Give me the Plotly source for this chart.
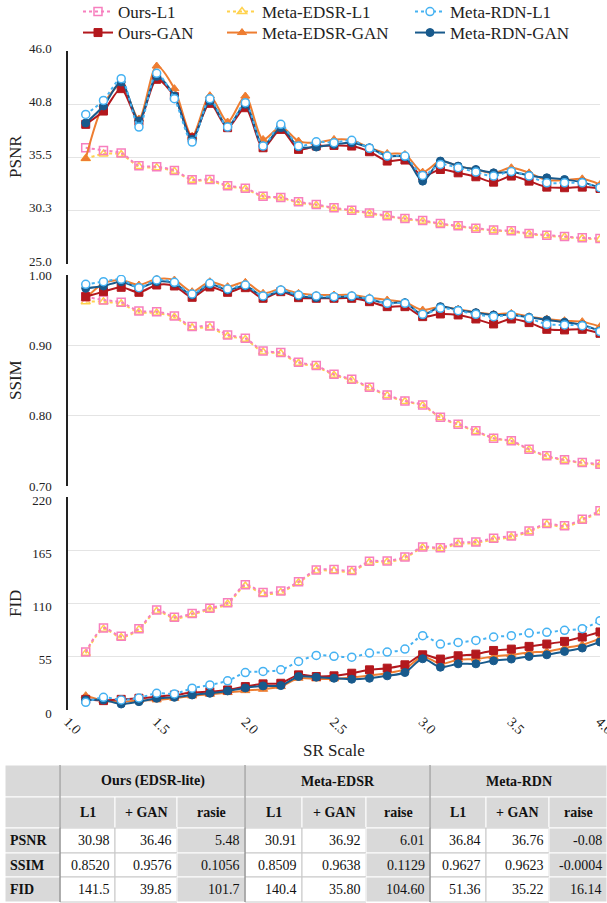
import plotly.graph_objects as go

W, H = 607, 903

# ---------------- data ----------------
sr_scale = [1.1, 1.2, 1.3, 1.4, 1.5, 1.6, 1.7, 1.8, 1.9, 2.0,
            2.1, 2.2, 2.3, 2.4, 2.5, 2.6, 2.7, 2.8, 2.9, 3.0,
            3.1, 3.2, 3.3, 3.4, 3.5, 3.6, 3.7, 3.8, 3.9, 4.0]

ours_l1_psnr = [36.46, 36.20, 35.94, 34.69, 34.59, 34.23, 33.30, 33.34, 32.71, 32.48,
                31.69, 31.56, 31.13, 30.87, 30.54, 30.31, 30.04, 29.75, 29.49, 29.29,
                28.99, 28.76, 28.53, 28.34, 28.27, 28.01, 27.84, 27.71, 27.58, 27.51]
edsr_l1_psnr = [35.40, 35.85, 35.80, 34.62, 34.50, 34.15, 33.25, 33.22, 32.65, 32.40,
                31.62, 31.50, 31.05, 30.80, 30.48, 30.25, 29.98, 29.70, 29.43, 29.22,
                28.93, 28.70, 28.48, 28.30, 28.20, 27.95, 27.78, 27.66, 27.52, 27.44]
rdn_l1_psnr = [39.75, 41.13, 43.27, 38.50, 43.80, 41.30, 37.02, 41.30, 38.50, 40.90,
               36.63, 38.77, 36.63, 37.05, 36.96, 37.19, 36.40, 35.64, 35.64, 33.73,
               34.82, 34.49, 34.06, 33.67, 34.13, 33.67, 33.00, 33.00, 33.00, 32.52]
ours_gan_psnr = [38.77, 40.08, 42.29, 39.06, 43.21, 41.50, 37.45, 40.84, 38.44, 40.41,
                 36.46, 38.27, 36.30, 36.63, 36.69, 36.63, 36.07, 35.15, 35.25, 33.67,
                 34.32, 33.99, 33.60, 33.07, 33.67, 33.17, 32.58, 32.52, 32.58, 32.45]
edsr_gan_psnr = [35.40, 40.74, 42.70, 39.30, 44.52, 42.29, 37.60, 41.60, 39.00, 41.56,
                 37.28, 38.53, 37.12, 36.96, 37.28, 37.22, 36.46, 35.90, 35.80, 34.06,
                 35.15, 34.65, 34.32, 33.99, 34.49, 33.99, 33.27, 33.27, 33.40, 32.84]
rdn_gan_psnr = [38.90, 40.58, 42.94, 39.10, 43.50, 41.56, 37.28, 41.07, 38.53, 40.74,
                36.63, 38.44, 36.56, 36.53, 36.79, 36.96, 36.46, 35.64, 35.57, 33.17,
                35.15, 34.65, 34.32, 33.99, 34.06, 33.73, 33.50, 33.33, 33.07, 32.52]

ours_l1_ssim = [0.9692, 0.9645, 0.9612, 0.9489, 0.9479, 0.9418, 0.9266, 0.9276, 0.9148, 0.9100,
                0.8920, 0.8897, 0.8759, 0.8712, 0.8589, 0.8518, 0.8404, 0.8295, 0.8210, 0.8153,
                0.7978, 0.7879, 0.7784, 0.7680, 0.7642, 0.7524, 0.7429, 0.7372, 0.7334, 0.7311]
edsr_l1_ssim = [0.9621, 0.9620, 0.9590, 0.9470, 0.9460, 0.9400, 0.9250, 0.9255, 0.9130, 0.9085,
                0.8905, 0.8885, 0.8745, 0.8700, 0.8575, 0.8505, 0.8395, 0.8285, 0.8200, 0.8145,
                0.7970, 0.7870, 0.7775, 0.7675, 0.7635, 0.7515, 0.7420, 0.7365, 0.7325, 0.7300]
rdn_l1_ssim = [0.9867, 0.9905, 0.9938, 0.9820, 0.9929, 0.9896, 0.9730, 0.9882, 0.9801, 0.9858,
               0.9702, 0.9787, 0.9716, 0.9702, 0.9692, 0.9702, 0.9659, 0.9597, 0.9597, 0.9441,
               0.9527, 0.9493, 0.9441, 0.9408, 0.9432, 0.9384, 0.9299, 0.9290, 0.9280, 0.9195]
ours_gan_ssim = [0.9692, 0.9763, 0.9825, 0.9754, 0.9858, 0.9844, 0.9683, 0.9830, 0.9754, 0.9820,
                 0.9669, 0.9763, 0.9678, 0.9669, 0.9669, 0.9669, 0.9621, 0.9550, 0.9550, 0.9408,
                 0.9446, 0.9432, 0.9375, 0.9304, 0.9375, 0.9323, 0.9228, 0.9219, 0.9228, 0.9171]
edsr_gan_ssim = [0.9669, 0.9882, 0.9929, 0.9858, 0.9943, 0.9929, 0.9763, 0.9905, 0.9834, 0.9896,
                 0.9740, 0.9801, 0.9740, 0.9716, 0.9716, 0.9716, 0.9678, 0.9645, 0.9612, 0.9503,
                 0.9550, 0.9512, 0.9470, 0.9441, 0.9455, 0.9408, 0.9375, 0.9351, 0.9337, 0.9266]
rdn_gan_ssim = [0.9811, 0.9844, 0.9905, 0.9820, 0.9905, 0.9882, 0.9716, 0.9867, 0.9787, 0.9848,
                0.9692, 0.9773, 0.9702, 0.9678, 0.9683, 0.9692, 0.9654, 0.9597, 0.9607, 0.9432,
                0.9550, 0.9503, 0.9465, 0.9432, 0.9432, 0.9399, 0.9361, 0.9328, 0.9290, 0.9205]

ours_l1_fid = [59.8, 84.7, 76.1, 84.0, 103.4, 95.8, 99.6, 105.1, 110.7, 129.3,
               121.4, 122.8, 132.5, 144.6, 145.0, 144.2, 153.6, 153.9, 158.1, 168.4,
               167.7, 172.9, 173.6, 177.4, 179.8, 185.0, 192.6, 190.2, 197.1, 205.8]
edsr_l1_fid = [58.5, 83.5, 75.0, 83.0, 102.0, 94.5, 98.5, 104.0, 109.5, 128.0,
               120.0, 121.5, 131.5, 143.5, 143.8, 143.0, 152.5, 152.8, 157.0, 167.5,
               166.5, 171.5, 172.5, 176.0, 178.5, 184.0, 191.5, 189.0, 196.0, 204.5]
rdn_l1_fid = [7.9, 13.1, 10.4, 12.4, 17.3, 16.6, 22.5, 25.9, 30.1, 38.7,
              39.8, 41.5, 50.1, 56.4, 55.5, 54.6, 58.8, 59.8, 62.9, 76.8,
              68.1, 69.8, 71.9, 75.4, 76.8, 79.5, 80.2, 82.3, 84.0, 92.3]
ours_gan_fid = [11.0, 9.7, 11.0, 12.1, 13.8, 15.5, 18.0, 19.0, 20.7, 24.2,
                27.0, 27.6, 36.3, 34.6, 35.3, 38.0, 41.5, 43.2, 46.7, 57.0,
                52.6, 56.0, 57.7, 61.5, 62.9, 65.7, 68.1, 70.9, 75.4, 80.6]
edsr_gan_fid = [14.8, 9.7, 8.6, 9.7, 10.4, 12.1, 14.5, 16.2, 18.0, 20.0,
                21.4, 24.2, 32.8, 32.1, 32.1, 33.5, 35.6, 38.0, 42.2, 55.3,
                47.7, 51.9, 52.6, 55.3, 57.0, 59.5, 60.5, 64.0, 67.4, 73.7]
rdn_gan_fid = [10.4, 10.4, 6.2, 8.6, 12.1, 13.1, 15.5, 17.3, 19.7, 22.8,
               24.9, 25.2, 34.6, 33.9, 32.8, 31.8, 32.8, 35.3, 38.7, 52.9,
               44.2, 47.7, 47.7, 50.8, 52.6, 55.3, 57.0, 60.5, 64.0, 70.2]

psnr_ticks = [25.0, 30.25, 35.5, 40.75, 46.0]
psnr_ticktext = ["25.0", "30.3", "35.5", "40.8", "46.0"]
ssim_ticks = [0.70, 0.80, 0.90, 1.00]
ssim_ticktext = ["0.70", "0.80", "0.90", "1.00"]
fid_ticks = [0, 55, 110, 165, 220]
x_ticks = [1.0, 1.5, 2.0, 2.5, 3.0, 3.5, 4.0]
x_ticktext = ["1.0", "1.5", "2.0", "2.5", "3.0", "3.5", "4.0"]

# table data
group_headers = ["", "Ours (EDSR-lite)", "Meta-EDSR", "Meta-RDN"]
sub_headers = ["", "L1", "+ GAN", "rasie", "L1", "+ GAN", "raise", "L1", "+ GAN", "raise"]
row_labels = ["PSNR", "SSIM", "FID"]
ours_l1_tab = ["30.98", "0.8520", "141.5"]
ours_gan_tab = ["36.46", "0.9576", "39.85"]
ours_raise_tab = ["5.48", "0.1056", "101.7"]
edsr_l1_tab = ["30.91", "0.8509", "140.4"]
edsr_gan_tab = ["36.92", "0.9638", "35.80"]
edsr_raise_tab = ["6.01", "0.1129", "104.60"]
rdn_l1_tab = ["36.84", "0.9627", "51.36"]
rdn_gan_tab = ["36.76", "0.9623", "35.22"]
rdn_raise_tab = ["-0.08", "-0.0004", "16.14"]

# ---------------- style ----------------
FONT = "Liberation Serif, Times New Roman, serif"
PINK = "#F77FBE"
YELLOW = "#FFD24D"
LBLUE = "#45B2F2"
RED = "#B3181D"
ORANGE = "#EE7D31"
DBLUE = "#185A8C"

# name, legend id, color, symbol, dash, data
series = [
    ("Meta-EDSR-L1", "legend3", YELLOW, "triangle-up-open", "dot",
     (edsr_l1_psnr, edsr_l1_ssim, edsr_l1_fid)),
    ("Ours-L1", "legend", PINK, "square-open", "dot",
     (ours_l1_psnr, ours_l1_ssim, ours_l1_fid)),
    ("Meta-EDSR-GAN", "legend4", ORANGE, "triangle-up", "solid",
     (edsr_gan_psnr, edsr_gan_ssim, edsr_gan_fid)),
    ("Ours-GAN", "legend2", RED, "square", "solid",
     (ours_gan_psnr, ours_gan_ssim, ours_gan_fid)),
    ("Meta-RDN-GAN", "legend6", DBLUE, "circle", "solid",
     (rdn_gan_psnr, rdn_gan_ssim, rdn_gan_fid)),
    ("Meta-RDN-L1", "legend5", LBLUE, "circle", "dot",
     (rdn_l1_psnr, rdn_l1_ssim, rdn_l1_fid)),
]

fig = go.Figure()
axes = [("x", "y"), ("x2", "y2"), ("x3", "y3")]
for name, leg, color, symbol, dash, data in series:
    for k, (xa, ya) in enumerate(axes):
        if name == "Meta-RDN-L1":
            marker = dict(symbol="circle", size=8, color="white",
                          line=dict(color=color, width=1.5))
        elif symbol.endswith("open"):
            marker = dict(symbol=symbol, size=8, color=color,
                          line=dict(color=color, width=1.5))
        else:
            marker = dict(symbol=symbol, size=8, color=color,
                          line=dict(color=color, width=1))
        fig.add_trace(go.Scatter(
            x=sr_scale, y=data[k], xaxis=xa, yaxis=ya,
            mode="lines+markers", name=name,
            legend=leg, showlegend=(k == 0),
            line=dict(color=color, width=2, dash=dash,
                      shape="spline", smoothing=0.8),
            marker=marker,
        ))


def py(px_from_top):
    return 1 - px_from_top / H


def pxx(px):
    return px / W


x_dom = [pxx(68), pxx(600)]
grid = "#E4E4E4"
common_y = dict(showgrid=True, gridcolor=grid, gridwidth=1, zeroline=False,
                showline=True, linecolor="#222222", linewidth=1.5,
                ticks="", automargin=False, ticklabelstandoff=12,
                tickfont=dict(family=FONT, size=13, color="#222"))
common_x = dict(range=[1.0, 4.0], showgrid=False, zeroline=False,
                showline=False, tickvals=x_ticks, ticktext=x_ticktext,
                automargin=False)

fig.update_layout(
    width=W, height=H,
    margin=dict(l=0, r=0, t=0, b=0, autoexpand=False),
    paper_bgcolor="white", plot_bgcolor="white",
    font=dict(family=FONT, color="#222"),
    xaxis=dict(domain=x_dom, anchor="y", showticklabels=False, **common_x),
    xaxis2=dict(domain=x_dom, anchor="y2", showticklabels=False, **common_x),
    xaxis3=dict(domain=x_dom, anchor="y3", showticklabels=True, tickangle=45,
                ticks="", ticklabeloverflow="allow",
                tickfont=dict(family=FONT, size=14, color="#222"),
                **common_x),
    yaxis=dict(domain=[py(264), py(51)], anchor="x", range=[25.0, 46.0],
               tickvals=psnr_ticks, ticktext=psnr_ticktext,
               ticklabelshift=-3, **common_y),
    yaxis2=dict(domain=[py(486), py(275)], anchor="x2", range=[0.70, 1.00],
                tickvals=ssim_ticks, ticktext=ssim_ticktext, **common_y),
    yaxis3=dict(domain=[py(710), py(497)], anchor="x3", range=[0, 220],
                tickvals=fid_ticks, ticklabelshift=3, **common_y),
)

# one legend per entry so that the 3x2 grid matches the reference spacing
leg_common = dict(orientation="v", yanchor="middle", xanchor="left",
                  font=dict(family=FONT, size=17, color="#222"),
                  bgcolor="rgba(0,0,0,0)", itemwidth=30)
legend_pos = {"legend": (78, 12), "legend2": (78, 33),
              "legend3": (222, 12), "legend4": (222, 33),
              "legend5": (410, 12), "legend6": (410, 33)}
fig.update_layout(**{k: dict(x=pxx(v[0]), y=py(v[1]), **leg_common)
                     for k, v in legend_pos.items()})

# axis titles
for txt, ypx in [("PSNR", 157), ("SSIM", 380), ("FID", 604)]:
    fig.add_annotation(text=txt, x=pxx(15), y=py(ypx), xref="paper", yref="paper",
                       xanchor="center", yanchor="middle",
                       textangle=-90, showarrow=False,
                       font=dict(family=FONT, size=17, color="#222"))
fig.add_annotation(text="SR Scale", x=pxx(334), y=py(750), xref="paper", yref="paper",
                   xanchor="center", yanchor="middle",
                   showarrow=False, font=dict(family=FONT, size=17, color="#222"))

# ---------------- table (drawn with shapes + text annotations) ----------------
GRAY = "#D9D9D9"
col_edges = [5, 60, 115, 177, 245, 302, 366, 430, 486, 549, 607]
row_edges = [765, 797, 828, 853, 877, 902]
group_spans = [(0, 1), (1, 4), (4, 7), (7, 10)]
table_cols = [row_labels,
              ours_l1_tab, ours_gan_tab, ours_raise_tab,
              edsr_l1_tab, edsr_gan_tab, edsr_raise_tab,
              rdn_l1_tab, rdn_gan_tab, rdn_raise_tab]
col_fill = [GRAY, "white", "white", GRAY, "white", "white", GRAY, "white", "white", GRAY]
tfont = dict(family=FONT, size=14, color="#111")


def cell_rect(x0, x1, y0, y1, fill, line):
    fig.add_shape(type="rect", xref="paper", yref="paper",
                  x0=pxx(x0), x1=pxx(x1), y0=py(y1), y1=py(y0),
                  fillcolor=fill, line=dict(color=line, width=1), layer="below")


def cell_text(txt, x, y, anchor):
    fig.add_annotation(text=txt, x=pxx(x), y=py(y), xref="paper", yref="paper",
                       xanchor=anchor, yanchor="middle", showarrow=False, font=tfont)


# row 0: group headers
for (a, b), txt in zip(group_spans, group_headers):
    x0, x1 = col_edges[a], col_edges[b]
    cell_rect(x0, x1, row_edges[0], row_edges[1], GRAY, "white")
    if txt:
        cell_text("<b>%s</b>" % txt, (x0 + x1) / 2, (row_edges[0] + row_edges[1]) / 2, "center")

# row 1: sub headers
for j, txt in enumerate(sub_headers):
    x0, x1 = col_edges[j], col_edges[j + 1]
    cell_rect(x0, x1, row_edges[1], row_edges[2], GRAY, "white")
    if txt:
        cell_text("<b>%s</b>" % txt, (x0 + x1) / 2, (row_edges[1] + row_edges[2]) / 2, "center")

# data rows
for r in range(3):
    y0, y1 = row_edges[r + 2], row_edges[r + 3]
    yc = (y0 + y1) / 2
    for j, col in enumerate(table_cols):
        x0, x1 = col_edges[j], col_edges[j + 1]
        fill = col_fill[j]
        cell_rect(x0, x1, y0, y1, fill, "white" if fill == GRAY else "#C8C8C8")
        if j == 0:
            cell_text("<b>%s</b>" % col[r], x0 + 3, yc, "left")
        else:
            cell_text(col[r], x1 - 3, yc, "right")

# group separators in table
for xp in [60, 245, 430]:
    fig.add_shape(type="line", xref="paper", yref="paper",
                  x0=pxx(xp), x1=pxx(xp), y0=py(row_edges[-1]), y1=py(row_edges[0]),
                  line=dict(color="#7A7A7A", width=1))

fig.write_html("out.html",
               config={"displayModeBar": False},
               post_script="document.body.style.margin='0';"
                           "document.body.style.overflow='hidden';")
